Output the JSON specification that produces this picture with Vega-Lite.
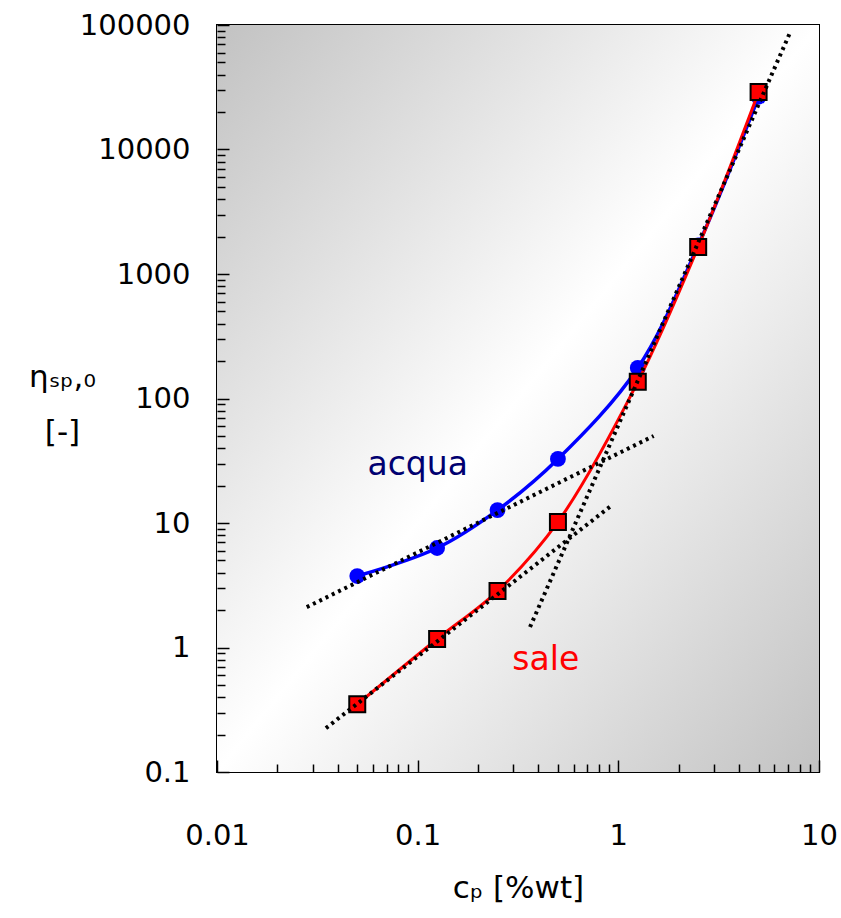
{
  "$schema": "https://vega.github.io/schema/vega-lite/v6.json",
  "width": 602,
  "height": 747,
  "autosize": "none",
  "padding": {"left": 217, "top": 25, "right": 22, "bottom": 146},
  "background": "white",
  "config": {
    "view": {"stroke": "black", "strokeWidth": 2},
    "font": "DejaVu Sans",
    "axis": {
      "domain": false,
      "grid": false,
      "labelFont": "DejaVu Sans",
      "labelFontSize": 29,
      "labelColor": "black",
      "titleFont": "DejaVu Sans",
      "titleFontSize": 31,
      "titleFontWeight": "normal",
      "titleColor": "black",
      "tickColor": "black",
      "tickWidth": 1.5,
      "labelOverlap": false,
      "labelFlush": false,
      "labelBound": false
    }
  },
  "datasets": {
    "series": [
      {"c": 0.05, "eta": 3.75, "solvent": "acqua"},
      {"c": 0.125, "eta": 6.3, "solvent": "acqua"},
      {"c": 0.25, "eta": 12.7, "solvent": "acqua"},
      {"c": 0.5, "eta": 32.7, "solvent": "acqua"},
      {"c": 1.25, "eta": 176, "solvent": "acqua"},
      {"c": 2.5, "eta": 1700, "solvent": "acqua"},
      {"c": 5, "eta": 26500, "solvent": "acqua"},
      {"c": 0.05, "eta": 0.35, "solvent": "sale"},
      {"c": 0.125, "eta": 1.17, "solvent": "sale"},
      {"c": 0.25, "eta": 2.84, "solvent": "sale"},
      {"c": 0.5, "eta": 10.2, "solvent": "sale"},
      {"c": 1.25, "eta": 136, "solvent": "sale"},
      {"c": 2.5, "eta": 1650, "solvent": "sale"},
      {"c": 5, "eta": 29000, "solvent": "sale"}
    ],
    "fits": [
      {"c": 0.028, "eta": 2.11, "fit": "dilute acqua"},
      {"c": 1.5, "eta": 50, "fit": "dilute acqua"},
      {"c": 0.0349, "eta": 0.225, "fit": "dilute sale"},
      {"c": 0.929, "eta": 13.9, "fit": "dilute sale"},
      {"c": 0.363, "eta": 1.46, "fit": "concentrated"},
      {"c": 7.16, "eta": 86300, "fit": "concentrated"}
    ],
    "notes": [
      {"c": 0.1, "eta": 29, "text": "acqua", "solvent": "acqua"},
      {"c": 0.435, "eta": 0.79, "text": "sale", "solvent": "sale"}
    ]
  },
  "encoding": {
    "x": {
      "field": "c",
      "type": "quantitative",
      "scale": {"type": "log", "domain": [0.01, 10], "nice": false},
      "axis": {
        "zindex": 1,
        "title": "cₚ [%wt]",
        "titleY": 116,
        "titleBaseline": "middle",
        "values": [0.01, 0.02, 0.03, 0.04, 0.05, 0.06, 0.07, 0.08, 0.09, 0.1, 0.2, 0.3, 0.4, 0.5, 0.6, 0.7, 0.8, 0.9, 1, 2, 3, 4, 5, 6, 7, 8, 9, 10],
        "tickSize": {"condition": {"test": "abs(log(datum.value)/LN10 - round(log(datum.value)/LN10)) < 1e-6", "value": -12}, "value": -8},
        "labelExpr": "abs(log(datum.value)/LN10 - round(log(datum.value)/LN10)) < 1e-6 ? format(datum.value, '~g') : ''",
        "labelPadding": 61
      }
    },
    "y": {
      "field": "eta",
      "type": "quantitative",
      "scale": {"type": "log", "domain": [0.1, 100000], "nice": false},
      "axis": {
        "zindex": 1,
        "title": ["ηₛₚ,₀", "[-]"],
        "titleAngle": 0,
        "titleAlign": "center",
        "titleBaseline": "middle",
        "titleX": -155,
        "titleY": 352,
        "titleLineHeight": 55,
        "values": [0.1, 0.2, 0.3, 0.4, 0.5, 0.6, 0.7, 0.8, 0.9, 1, 2, 3, 4, 5, 6, 7, 8, 9, 10, 20, 30, 40, 50, 60, 70, 80, 90, 100, 200, 300, 400, 500, 600, 700, 800, 900, 1000, 2000, 3000, 4000, 5000, 6000, 7000, 8000, 9000, 10000, 20000, 30000, 40000, 50000, 60000, 70000, 80000, 90000, 100000],
        "tickSize": {"condition": {"test": "abs(log(datum.value)/LN10 - round(log(datum.value)/LN10)) < 1e-6", "value": -12}, "value": -8},
        "labelExpr": "abs(log(datum.value)/LN10 - round(log(datum.value)/LN10)) < 1e-6 ? format(datum.value, '~g') : ''",
        "labelPadding": 39
      }
    }
  },
  "layer": [
    {
      "data": {"values": [{}]},
      "mark": {
        "type": "rect",
        "fill": {
          "gradient": "linear",
          "x1": 0, "y1": 0, "x2": 1, "y2": 1,
          "stops": [
            {"offset": 0, "color": "#c2c2c2"},
            {"offset": 0.5, "color": "#ffffff"},
            {"offset": 1, "color": "#c2c2c2"}
          ]
        }
      },
      "encoding": {"x": null, "y": null}
    },
    {
      "data": {"name": "series"},
      "transform": [{"filter": "datum.solvent === 'acqua'"}],
      "mark": {"type": "line", "color": "#0000ff", "strokeWidth": 3.5, "interpolate": "catmull-rom"},
      "encoding": {}
    },
    {
      "data": {"name": "series"},
      "transform": [{"filter": "datum.solvent === 'acqua'"}],
      "mark": {"type": "circle", "color": "#0000ff", "opacity": 1, "size": 250},
      "encoding": {}
    },
    {
      "data": {"name": "series"},
      "transform": [{"filter": "datum.solvent === 'sale'"}],
      "mark": {"type": "line", "color": "#ff0000", "strokeWidth": 3, "interpolate": "catmull-rom"},
      "encoding": {}
    },
    {
      "data": {"name": "series"},
      "transform": [{"filter": "datum.solvent === 'sale'"}],
      "mark": {"type": "square", "fill": "#ff0000", "stroke": "black", "strokeWidth": 2, "opacity": 1, "size": 256},
      "encoding": {}
    },
    {
      "data": {"name": "fits"},
      "mark": {"type": "line", "color": "black", "strokeWidth": 4, "strokeDash": [3, 4], "strokeCap": "butt"},
      "encoding": {"detail": {"field": "fit"}}
    },
    {
      "data": {"name": "notes"},
      "mark": {"type": "text", "fontSize": 33, "font": "DejaVu Sans", "align": "center", "baseline": "middle"},
      "encoding": {
        "text": {"field": "text"},
        "color": {"field": "solvent", "scale": {"domain": ["acqua", "sale"], "range": ["#000070", "#ff0000"]}, "legend": null}
      }
    }
  ]
}
